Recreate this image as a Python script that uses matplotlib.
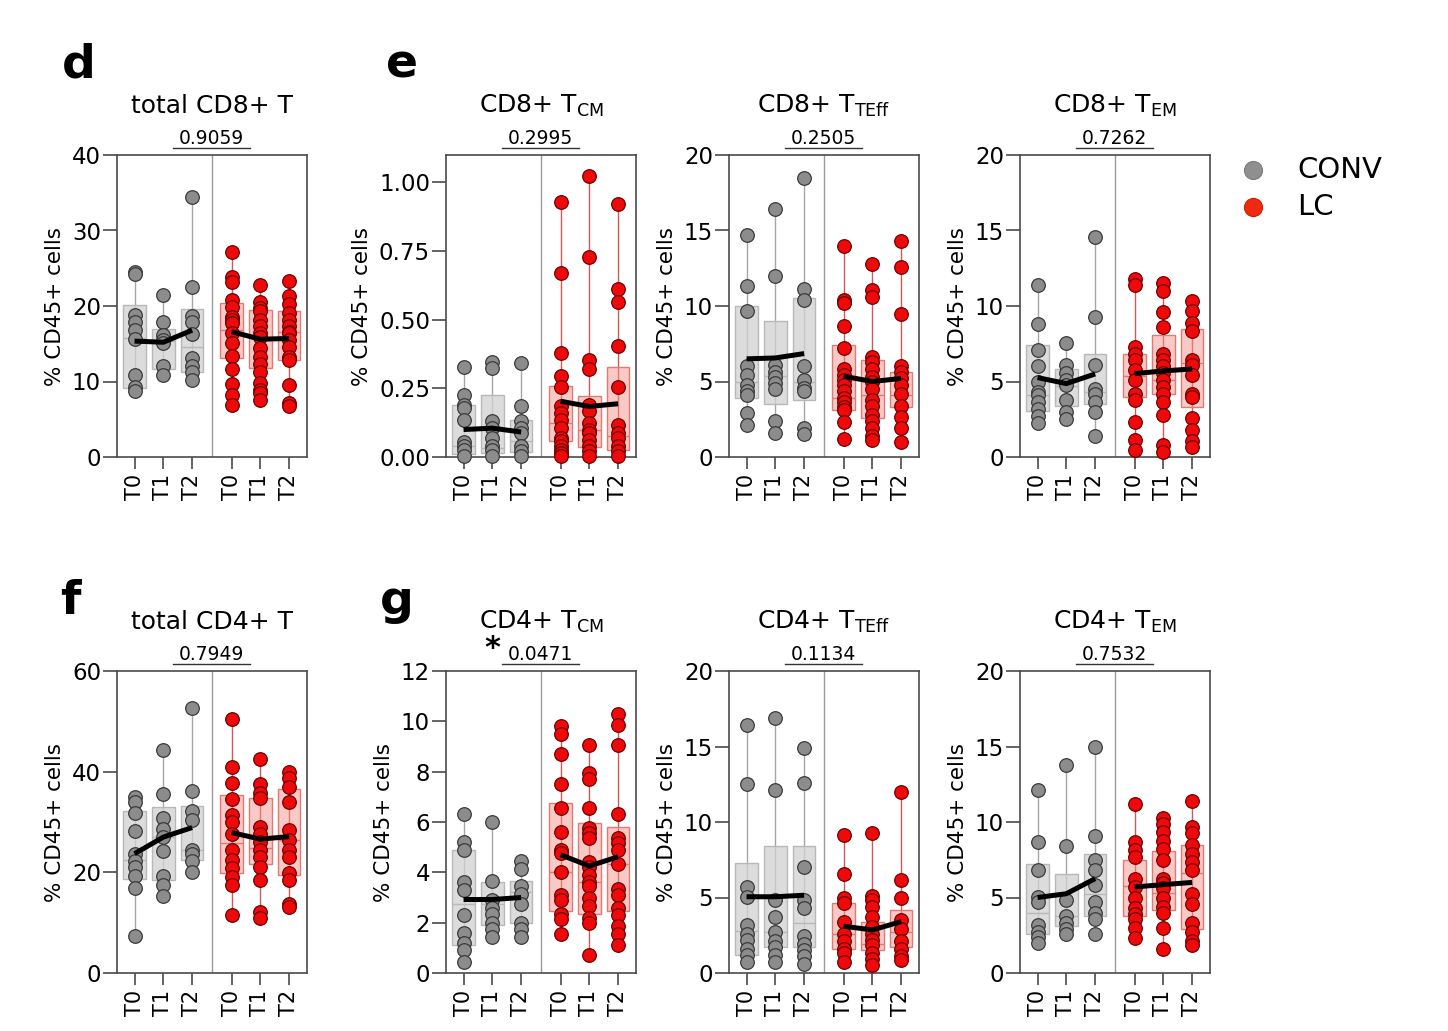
import matplotlib
matplotlib.use("Agg")
import matplotlib.pyplot as plt
import matplotlib.transforms as mtransforms
from matplotlib.lines import Line2D
from matplotlib.ticker import FormatStrFormatter

plt.rcParams['font.family'] = ['DejaVu Sans']
plt.rcParams['mathtext.default'] = 'regular'

# ---------------- data ----------------
timepoints = ['T0', 'T1', 'T2']
groups = ['CONV', 'LC']

# total CD8+ T
cd8_total_pts = [
    [24.5, 24.2, 18.8, 17.9, 16.8, 15.6, 10.8, 9.3, 8.7],
    [21.4, 17.9, 16.1, 15.5, 15.1, 12.1, 10.8],
    [34.4, 22.5, 18.7, 17.9, 16.3, 13.1, 12.0, 11.3, 10.2],
    [27.2, 23.8, 23.2, 20.8, 19.9, 18.6, 18.2, 17.7, 16.4, 15.1, 13.4, 11.7, 9.7, 8.2, 6.9],
    [22.8, 20.5, 19.7, 19.4, 18.2, 17.3, 16.4, 15.9, 14.4, 13.3, 12.3, 11.3, 9.8, 8.9, 8.5, 7.6],
    [23.3, 21.3, 20.2, 19.1, 18.2, 17.3, 16.6, 16.4, 15.5, 14.6, 13.3, 12.9, 9.5, 7.1, 6.7]]
cd8_total_q1 = [9.1, 11.6, 11.2, 13.1, 11.8, 12.9]
cd8_total_med = [15.7, 15.3, 14.6, 16.8, 15.7, 16.5]
cd8_total_q3 = [20.1, 16.9, 19.6, 20.4, 19.5, 19.3]
cd8_total_mean = [15.35, 15.2, 16.8, 16.6, 15.6, 15.7]

# CD8+ TCM
cd8_cm_pts = [
    [0.326, 0.227, 0.19, 0.178, 0.133, 0.053, 0.039, 0.027, 0.005],
    [0.345, 0.324, 0.13, 0.106, 0.069, 0.039, 0.027, 0.005],
    [0.342, 0.184, 0.13, 0.106, 0.087, 0.039, 0.021, 0.005],
    [0.93, 0.672, 0.379, 0.294, 0.255, 0.184, 0.16, 0.136, 0.106, 0.069, 0.057, 0.039, 0.027, 0.015, 0.005],
    [1.022, 0.73, 0.352, 0.32, 0.19, 0.166, 0.124, 0.10, 0.087, 0.063, 0.039, 0.021, 0.005],
    [0.922, 0.612, 0.564, 0.403, 0.255, 0.118, 0.087, 0.069, 0.039, 0.021, 0.005]]
cd8_cm_q1 = [0.012, 0.015, 0.019, 0.057, 0.036, 0.024]
cd8_cm_med = [0.039, 0.033, 0.057, 0.124, 0.10, 0.075]
cd8_cm_q3 = [0.19, 0.225, 0.133, 0.26, 0.223, 0.326]
cd8_cm_mean = [0.10, 0.105, 0.091, 0.203, 0.184, 0.194]

# CD8+ TTEff
cd8_teff_pts = [
    [14.7, 11.3, 9.7, 6.0, 5.4, 4.75, 4.4, 4.1, 2.9, 2.1],
    [16.4, 12.0, 6.1, 5.6, 5.3, 4.9, 4.5, 2.4, 1.6],
    [18.5, 11.1, 10.4, 6.0, 5.1, 4.6, 4.4, 1.9, 1.5],
    [14.0, 10.4, 10.2, 8.7, 7.2, 5.8, 5.4, 5.1, 4.8, 4.4, 3.9, 3.65, 3.3, 3.1, 2.3, 1.2],
    [12.8, 11.05, 10.6, 6.6, 6.3, 5.8, 5.3, 5.0, 4.5, 3.75, 3.35, 2.8, 2.4, 1.9, 1.4, 1.1],
    [14.3, 12.6, 9.5, 6.0, 5.6, 5.2, 4.75, 4.2, 3.4, 2.65, 1.9, 1.0]]
cd8_teff_q1 = [3.9, 3.5, 3.75, 3.1, 2.6, 3.3]
cd8_teff_med = [5.0, 5.35, 5.0, 3.9, 4.1, 4.1]
cd8_teff_q3 = [10.0, 9.0, 10.5, 7.4, 6.4, 5.6]
cd8_teff_mean = [6.5, 6.56, 6.85, 5.35, 5.0, 5.2]

# CD8+ TEM
cd8_em_pts = [
    [11.4, 8.8, 7.1, 6.0, 5.0, 4.3, 4.1, 3.65, 3.2, 2.7, 2.25],
    [7.55, 6.1, 5.55, 5.1, 4.75, 3.75, 3.0, 2.5],
    [14.6, 9.3, 6.1, 4.5, 4.2, 3.65, 3.0, 1.4],
    [11.8, 11.4, 7.3, 6.85, 6.4, 5.75, 5.1, 4.2, 3.75, 2.3, 1.15, 0.45],
    [11.5, 11.0, 9.6, 8.6, 6.85, 6.45, 6.0, 5.55, 5.1, 4.65, 4.2, 3.65, 2.75, 0.8, 0.3],
    [10.3, 9.7, 8.9, 8.35, 6.45, 6.1, 5.4, 4.2, 4.0, 2.55, 1.8, 1.05, 0.65]]
cd8_em_q1 = [3.05, 3.4, 3.5, 4.0, 4.2, 3.3]
cd8_em_med = [4.1, 4.7, 4.3, 5.35, 5.1, 6.2]
cd8_em_q3 = [7.45, 5.85, 6.85, 6.8, 8.1, 8.5]
cd8_em_mean = [5.26, 4.86, 5.5, 5.52, 5.7, 5.83]

# total CD4+ T
cd4_total_pts = [
    [35.0, 34.0, 31.8, 28.2, 23.7, 22.3, 21.1, 19.2, 16.8, 7.4],
    [44.3, 35.5, 30.7, 28.7, 27.1, 24.3, 19.2, 17.4, 15.3],
    [52.7, 36.2, 32.2, 30.4, 24.4, 23.7, 22.3, 20.0],
    [50.4, 41.0, 37.7, 34.5, 31.4, 30.0, 27.7, 24.4, 22.4, 20.8, 19.1, 17.4, 11.5],
    [42.6, 37.5, 35.7, 34.7, 29.0, 27.7, 26.1, 24.4, 23.1, 21.1, 18.4, 12.1, 10.9],
    [40.0, 38.7, 37.0, 34.0, 28.4, 26.4, 24.4, 23.1, 19.8, 18.4, 13.8, 13.1]]
cd4_total_q1 = [18.6, 18.4, 22.5, 19.9, 21.6, 19.4]
cd4_total_med = [22.4, 27.1, 24.4, 25.9, 24.9, 26.5]
cd4_total_q3 = [32.2, 32.9, 33.2, 35.3, 34.7, 36.5]
cd4_total_mean = [23.7, 27.0, 28.9, 27.9, 26.6, 27.1]

# CD4+ TCM
cd4_cm_pts = [
    [6.3, 5.2, 4.9, 3.6, 3.3, 2.3, 1.6, 1.2, 0.9, 0.45],
    [6.0, 3.65, 2.9, 2.6, 2.35, 2.0, 1.75, 1.45],
    [4.45, 4.15, 3.45, 3.15, 2.75, 2.0, 1.75, 1.45],
    [9.8, 9.5, 8.7, 7.5, 6.55, 5.6, 4.9, 4.75, 4.0, 3.1, 2.9, 2.35, 2.15, 1.55],
    [9.05, 7.95, 7.7, 6.55, 5.75, 5.55, 5.35, 4.4, 4.2, 3.9, 3.6, 3.45, 3.0, 2.65, 2.2, 2.0, 0.7],
    [10.3, 9.85, 9.05, 6.3, 5.35, 5.15, 4.9, 4.35, 3.35, 3.1, 2.6, 2.3, 1.85, 1.55, 1.1]]
cd4_cm_q1 = [1.1, 1.9, 2.0, 2.45, 2.35, 2.45]
cd4_cm_med = [2.75, 2.75, 3.2, 4.0, 3.6, 4.35]
cd4_cm_q3 = [4.9, 3.6, 3.65, 6.75, 5.95, 5.8]
cd4_cm_mean = [2.92, 2.92, 3.0, 4.7, 4.25, 4.62]

# CD4+ TTEff
cd4_teff_pts = [
    [16.4, 12.5, 5.7, 5.05, 3.15, 2.6, 2.2, 1.6, 1.2, 0.75],
    [16.9, 12.1, 4.85, 3.7, 2.7, 2.15, 1.75, 1.2, 0.75],
    [14.9, 12.6, 7.05, 4.85, 4.3, 2.45, 1.95, 1.5, 1.15, 0.6],
    [9.15, 6.55, 4.95, 4.65, 3.4, 2.6, 2.15, 1.6, 1.3, 0.75],
    [9.25, 5.1, 4.85, 4.35, 3.7, 3.05, 2.6, 2.2, 1.85, 1.3, 0.9, 0.5],
    [12.0, 6.15, 5.0, 3.5, 2.9, 2.15, 1.6, 1.15, 0.85]]
cd4_teff_q1 = [1.2, 1.7, 1.7, 1.6, 1.55, 1.7]
cd4_teff_med = [2.8, 2.7, 3.3, 2.6, 1.95, 2.7]
cd4_teff_q3 = [7.3, 8.4, 8.4, 4.65, 3.4, 4.15]
cd4_teff_mean = [5.05, 5.05, 5.15, 3.1, 2.85, 3.4]

# CD4+ TEM
cd4_em_pts = [
    [12.1, 8.7, 6.8, 5.05, 4.7, 3.15, 2.7, 2.4, 2.0],
    [13.8, 8.4, 4.85, 3.75, 3.3, 2.9, 2.6],
    [15.0, 9.1, 7.5, 6.8, 5.85, 4.7, 3.95, 3.6, 2.55],
    [11.2, 8.7, 8.15, 7.65, 6.25, 5.7, 4.95, 4.3, 3.9, 3.55, 2.95, 2.3],
    [10.25, 9.9, 9.35, 8.75, 8.2, 7.5, 6.25, 5.95, 5.6, 4.95, 4.4, 3.95, 2.95, 1.6],
    [11.4, 9.7, 9.25, 8.5, 7.9, 7.35, 6.8, 5.2, 4.6, 3.3, 2.7, 2.15, 1.85]]
cd4_em_q1 = [2.6, 3.1, 3.75, 3.75, 4.2, 2.9]
cd4_em_med = [3.95, 3.75, 5.25, 5.75, 5.3, 6.65]
cd4_em_q3 = [7.2, 6.55, 7.85, 7.5, 8.05, 8.5]
cd4_em_mean = [5.0, 5.25, 6.25, 5.7, 5.85, 6.0]

titles = ['total CD8+ T', 'CD8+ T$_{CM}$', 'CD8+ T$_{TEff}$', 'CD8+ T$_{EM}$',
          'total CD4+ T', 'CD4+ T$_{CM}$', 'CD4+ T$_{TEff}$', 'CD4+ T$_{EM}$']
pvalues = ['0.9059', '0.2995', '0.2505', '0.7262', '0.7949', '0.0471', '0.1134', '0.7532']
significant = [False, False, False, False, False, True, False, False]
ylims = [40, 1.1, 20, 20, 60, 12, 20, 20]
yticks_list = [[0, 10, 20, 30, 40], [0, 0.25, 0.5, 0.75, 1.0], [0, 5, 10, 15, 20], [0, 5, 10, 15, 20],
               [0, 20, 40, 60], [0, 2, 4, 6, 8, 10, 12], [0, 5, 10, 15, 20], [0, 5, 10, 15, 20]]
panel_letters = ['d', 'e', 'f', 'g']

panels = [
    (cd8_total_pts, cd8_total_q1, cd8_total_med, cd8_total_q3, cd8_total_mean),
    (cd8_cm_pts, cd8_cm_q1, cd8_cm_med, cd8_cm_q3, cd8_cm_mean),
    (cd8_teff_pts, cd8_teff_q1, cd8_teff_med, cd8_teff_q3, cd8_teff_mean),
    (cd8_em_pts, cd8_em_q1, cd8_em_med, cd8_em_q3, cd8_em_mean),
    (cd4_total_pts, cd4_total_q1, cd4_total_med, cd4_total_q3, cd4_total_mean),
    (cd4_cm_pts, cd4_cm_q1, cd4_cm_med, cd4_cm_q3, cd4_cm_mean),
    (cd4_teff_pts, cd4_teff_q1, cd4_teff_med, cd4_teff_q3, cd4_teff_mean),
    (cd4_em_pts, cd4_em_q1, cd4_em_med, cd4_em_q3, cd4_em_mean),
]

# ---------------- styling ----------------
W, H = 1448, 1031
positions = [0, 1, 2, 3.37, 4.37, 5.37]
divider_x = 2.685
box_w = 0.78

pt_fill = {'CONV': '#8c8c8c', 'LC': '#ee0a0a'}
pt_edge = {'CONV': '#3a3a3a', 'LC': '#700000'}
box_fill = {'CONV': (0.82, 0.82, 0.82, 0.75), 'LC': (0.96, 0.58, 0.55, 0.5)}
box_edge = {'CONV': '#b8b8b8', 'LC': '#e07a75'}
whisk_col = {'CONV': '#a6a6a6', 'LC': '#d05a55'}
spine_col = '#4a4a4a'

fig = plt.figure(figsize=(W / 100, H / 100), dpi=100)

ax_lefts = [117, 446, 729, 1020]
row_bottoms = [457, 973]
ax_w, ax_h = 190, 302

for k, (pts, q1, med, q3, mean) in enumerate(panels):
    r, c = divmod(k, 4)
    ax = fig.add_axes([ax_lefts[c] / W, 1 - row_bottoms[r] / H, ax_w / W, ax_h / H])
    for i, pos in enumerate(positions):
        g = groups[0] if i < 3 else groups[1]
        vals = pts[i]
        ax.vlines(pos, min(vals), max(vals), color=whisk_col[g], lw=1.0, zorder=1)
        ax.bar(pos, q3[i] - q1[i], bottom=q1[i], width=box_w, color=box_fill[g],
               edgecolor=box_edge[g], linewidth=1.0, zorder=2)
        ax.hlines(med[i], pos - box_w / 2, pos + box_w / 2, color=box_edge[g], lw=1.0, zorder=2.5)
        ax.plot([pos] * len(vals), vals, 'o', ms=9.8, mfc=pt_fill[g], mec=pt_edge[g],
                mew=0.9, zorder=3, clip_on=False)
    ax.plot(positions[:3], mean[:3], color='black', lw=3.6, zorder=5, solid_capstyle='butt')
    ax.plot(positions[3:], mean[3:], color='black', lw=3.6, zorder=5, solid_capstyle='butt')
    ax.axvline(divider_x, color='#9a9a9a', lw=1.0, zorder=0.5)

    ax.set_xlim(-0.61, 5.99)
    ax.set_ylim(0, ylims[k])
    ax.set_yticks(yticks_list[k])
    if k == 1:
        ax.yaxis.set_major_formatter(FormatStrFormatter('%.2f'))
    ax.set_xticks(positions)
    ax.set_xticklabels(timepoints * 2, rotation=90, fontsize=15)
    ax.tick_params(axis='y', direction='out', length=10, width=1.2, color=spine_col,
                   labelsize=16.5, pad=1.5)
    ax.tick_params(axis='x', direction='out', length=8.5, width=1.2, color=spine_col, pad=4)
    for s in ax.spines.values():
        s.set_color(spine_col)
        s.set_linewidth(1.2)
    ax.set_ylabel('% CD45+ cells', fontsize=15.5, labelpad=5)

    trans = mtransforms.blended_transform_factory(ax.transData, ax.transAxes)
    ax.plot([1.35, 4.0], [1.022, 1.022], color='#333333', lw=1.0, transform=trans, clip_on=False)
    ax.text(divider_x, 1.036, pvalues[k], transform=trans, ha='center', va='baseline', fontsize=13.5)
    if significant[k]:
        ax.text(1.0, 1.045, '*', transform=trans, ha='center', va='baseline',
                fontsize=22, fontweight='bold')
    ax.text(0.5, 1.14, titles[k], transform=ax.transAxes, ha='center', va='baseline', fontsize=18)

# panel letters
letter_pos = [(62, 77), (386, 77), (60, 614), (380, 614)]
for L, (x, y) in zip(panel_letters, letter_pos):
    fig.text(x / W, 1 - y / H, L, fontsize=34, fontweight='bold', ha='left', va='baseline')

# legend
for g, y in zip(groups, [170, 207]):
    fig.add_artist(Line2D([1253 / W], [1 - y / H], marker='o', ms=13,
                          mfc=('#8f8f8f' if g == 'CONV' else '#f02a12'),
                          mec=('#7a7a7a' if g == 'CONV' else '#d01a00'), mew=0.8, linestyle='none',
                          transform=fig.transFigure))
    fig.text(1297 / W, 1 - y / H, g, fontsize=21, ha='left', va='center')

fig.savefig('out.png', dpi=100)
